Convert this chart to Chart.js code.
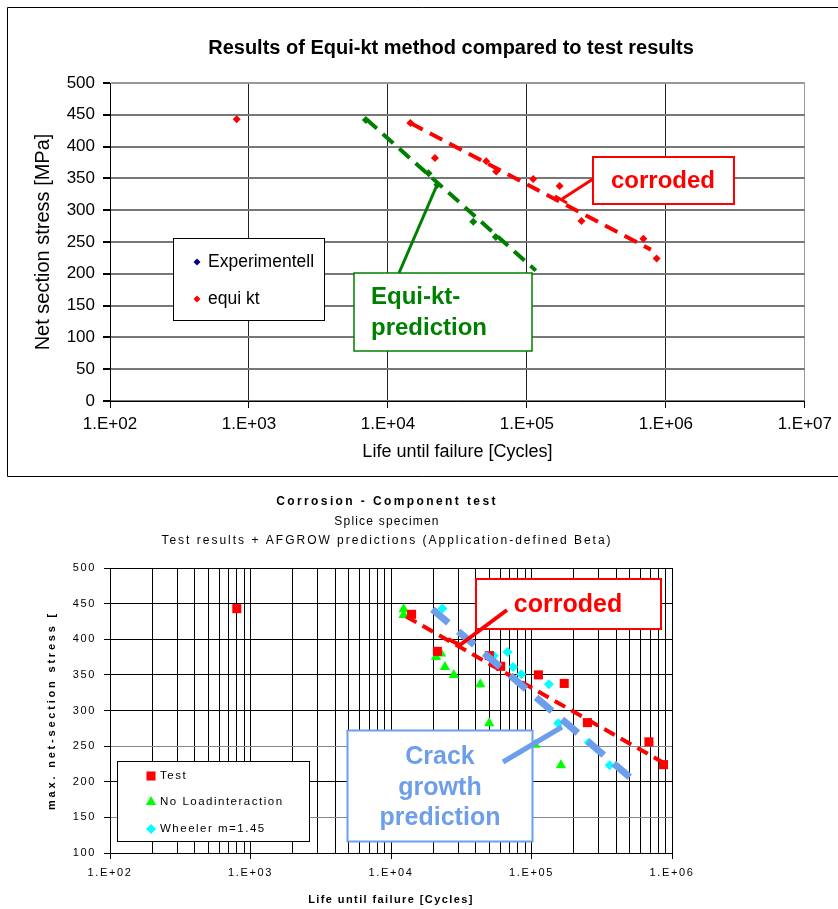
<!DOCTYPE html>
<html>
<head>
<meta charset="utf-8">
<script src="https://cdn.jsdelivr.net/npm/chart.js@4.4.1/dist/chart.umd.min.js"></script>
<style>
  html, body { margin: 0; padding: 0; background: #fff; }
  #wrap { position: relative; width: 838px; height: 909px; }
  #topChart { position: absolute; left: 0; top: 0; }
  #bottomChart { position: absolute; left: 0; top: 480px; }
</style>
</head>
<body>
<div id="wrap">
  <canvas id="topChart" width="838" height="480"></canvas>
  <canvas id="bottomChart" width="838" height="429"></canvas>
</div>
<script>
// --- top chart: Equi-kt method vs test ---
const topXLabels = ['1.E+02', '1.E+03', '1.E+04', '1.E+05', '1.E+06', '1.E+07'];
const topYTicks = [0, 50, 100, 150, 200, 250, 300, 350, 400, 450, 500];
const experimentellLife = [];
const experimentellStress = [];
const equiKtLife = [816, 14500, 21800, 51000, 60100, 111000, 172000, 247000, 689000, 858000];
const equiKtStress = [443, 437, 382, 377, 361, 349, 338, 283, 255, 224];
const predPointLife = [6930, 19600, 22700, 41100, 59700];
const predPointStress = [442, 358, 340, 282, 258];
const predLineLife = [7000, 116000];
const predLineStress = [443, 205];
const corrLineLife = [14500, 780000];
const corrLineStress = [437, 238];

// --- bottom chart: corrosion component test ---
const bottomXLabels = ['1.E+02', '1.E+03', '1.E+04', '1.E+05', '1.E+06'];
const bottomYTicks = [100, 150, 200, 250, 300, 350, 400, 450, 500];
const testLife = [799, 14000, 21400, 50100, 60400, 112000, 171000, 250000, 685000, 870000];
const testStress = [443, 435, 383, 377, 362, 350, 338, 283, 256, 224];
const noLoadLife = [12300, 12300, 20900, 22700, 24200, 28000, 43200, 50000, 106000, 162000];
const noLoadStress = [442, 434, 375, 380, 361, 350, 337, 282, 252, 223];
const wheelerLife = [23200, 53800, 67500, 74000, 84500, 133000, 155000, 256000, 360000];
const wheelerStress = [443, 377, 382, 361, 351, 337, 282, 255, 223];
const crackLineLife = [19700, 525000];
const crackLineStress = [442, 203];
const corrTrendLife = [12800, 900000];
const corrTrendStress = [432, 225];

const FONT = '"Liberation Sans", Arial, sans-serif';
const RED = '#ff0000';
const GREEN = '#008000';
const BLUE = '#6d9eeb';

const zip = (xs, ys) => xs.map((x, i) => ({ x, y: ys[i] }));
const tickValue = lbl => parseFloat(lbl.replace('.E', 'e'));
const labelMap = labels => Object.fromEntries(labels.map(l => [tickValue(l), l]));
const topXLabelOf = labelMap(topXLabels);
const bottomXLabelOf = labelMap(bottomXLabels);

// decade ticks, optionally with the 2..9 minor lines in between
function logTicks(labels, minor) {
  const decades = labels.map(tickValue);
  const out = [];
  decades.forEach((d, i) => {
    if (!minor || i === decades.length - 1) { out.push({ value: d }); return; }
    for (let m = 1; m < 10; m++) out.push({ value: m * d });
  });
  return out;
}

function drawMarker(ctx, style, r, x, y, color) {
  ctx.fillStyle = color;
  ctx.beginPath();
  if (style === 'rect') {
    const s = r * Math.SQRT1_2;
    ctx.rect(x - s, y - s, 2 * s, 2 * s);
  } else if (style === 'triangle') {
    ctx.moveTo(x, y - r);
    ctx.lineTo(x + r * 0.866, y + r * 0.5);
    ctx.lineTo(x - r * 0.866, y + r * 0.5);
    ctx.closePath();
  } else {
    ctx.moveTo(x, y - r);
    ctx.lineTo(x + r, y);
    ctx.lineTo(x, y + r);
    ctx.lineTo(x - r, y);
    ctx.closePath();
  }
  ctx.fill();
}

function drawText(ctx, str, x, y, font, color, align, spacing) {
  ctx.font = font;
  ctx.fillStyle = color;
  ctx.textAlign = align || 'left';
  ctx.textBaseline = 'middle';
  ctx.letterSpacing = spacing || '0px';
  ctx.fillText(str, x, y);
}

// titles, legend box and the callout boxes
function decor(cfg) {
  return {
    id: 'decor',
    beforeDraw(chart) {
      const ctx = chart.ctx;
      ctx.letterSpacing = cfg.tickSpacing || '0px';
      Object.entries(cfg.titleSpacing || {}).forEach(([id, sp]) => {
        const s = chart.scales[id];
        if (s && !s._spaced) {
          const orig = s.drawTitle;
          s.drawTitle = function () {
            const old = ctx.letterSpacing;
            ctx.letterSpacing = sp;
            orig.call(this);
            ctx.letterSpacing = old;
          };
          s._spaced = true;
        }
      });
    },
    afterDraw(chart) {
      const ctx = chart.ctx;
      ctx.save();
      if (cfg.frame) {
        // open on the right, like the cropped original
        const [fx, fy, fr, fb] = cfg.frame;
        ctx.strokeStyle = '#000';
        ctx.lineWidth = 1;
        ctx.beginPath();
        ctx.moveTo(fr, fy); ctx.lineTo(fx, fy); ctx.lineTo(fx, fb); ctx.lineTo(fr, fb);
        ctx.stroke();
      }
      cfg.titles.forEach(t => drawText(ctx, t.text, t.x, t.y, t.font, '#000', 'center', t.spacing));

      const lg = cfg.legend;
      ctx.fillStyle = '#fff';
      ctx.fillRect(...lg.box);
      ctx.strokeStyle = '#000';
      ctx.lineWidth = 1;
      ctx.strokeRect(...lg.box);
      chart.data.datasets.filter(d => d.inLegend).forEach((d, i) => {
        drawMarker(ctx, d.pointStyle, d.legendRadius, lg.markerX, lg.rows[i], d.backgroundColor);
        drawText(ctx, d.label, lg.textX, lg.rows[i], lg.font, '#000', 'left', lg.spacing);
      });

      cfg.boxes.forEach(b => {
        ctx.fillStyle = '#fff';
        ctx.fillRect(...b.rect);
        ctx.strokeStyle = b.stroke;
        ctx.lineWidth = b.width;
        ctx.strokeRect(...b.rect);
        b.lines.forEach((ln, i) => drawText(ctx, ln, b.x, b.ys[i], b.font, b.stroke, b.align, '0px'));
      });

      cfg.callouts.forEach(c => {
        ctx.strokeStyle = c.color;
        ctx.lineWidth = c.width;
        ctx.lineCap = 'butt';
        ctx.beginPath();
        c.pts.forEach(([x, y], i) => (i ? ctx.lineTo(x, y) : ctx.moveTo(x, y)));
        ctx.stroke();
      });
      ctx.restore();
    }
  };
}

const topDecor = {
  frame: [7.5, 7.5, 838, 476.5],
  titles: [{ text: 'Results of Equi-kt method compared to test results', x: 451, y: 48, font: 'bold 20px ' + FONT }],
  legend: { box: [173.5, 238.5, 151, 82], markerX: 197, textX: 208, rows: [262, 299], font: '17.5px ' + FONT },
  boxes: [
    { rect: [593, 157, 141, 47], stroke: RED, width: 2, lines: ['corroded'], x: 611, ys: [181], align: 'left', font: 'bold 24px ' + FONT },
    { rect: [354, 273, 178, 78], stroke: GREEN, width: 1.5, lines: ['Equi-kt-', 'prediction'], x: 371, ys: [297, 328], align: 'left', font: 'bold 24px ' + FONT }
  ],
  callouts: [
    { pts: [[593, 179], [562, 199]], color: RED, width: 3 },
    { pts: [[555, 196], [567, 203]], color: RED, width: 3 },
    { pts: [[399, 273], [437, 185]], color: GREEN, width: 3 }
  ]
};

const bottomDecor = {
  tickSpacing: '1.6px',
  titleSpacing: { x: '1.4px', y: '2.8px' },
  titles: [
    { text: 'Corrosion - Component test', x: 387, y: 22, font: 'bold 12px ' + FONT, spacing: '2.4px' },
    { text: 'Splice specimen', x: 387, y: 41.5, font: '12px ' + FONT, spacing: '1.2px' },
    { text: 'Test results + AFGROW predictions (Application-defined Beta)', x: 387, y: 60.5, font: '12px ' + FONT, spacing: '2px' }
  ],
  legend: { box: [117.5, 281.5, 192, 80], markerX: 151, textX: 160, rows: [296, 322, 349], font: '11.5px ' + FONT, spacing: '1.5px' },
  boxes: [
    { rect: [476, 99, 185, 50], stroke: RED, width: 2, lines: ['corroded'], x: 568, ys: [125], align: 'center', font: 'bold 25px ' + FONT },
    { rect: [347.5, 250.5, 185, 111], stroke: BLUE, width: 2, lines: ['Crack', 'growth', 'prediction'], x: 440, ys: [277, 308, 338], align: 'center', font: 'bold 25px ' + FONT }
  ],
  callouts: [
    { pts: [[507, 130], [460, 165], [448, 159]], color: RED, width: 4 },
    { pts: [[503, 282], [562, 247]], color: BLUE, width: 5 }
  ]
};

// ---------------- top chart ----------------
new Chart(document.getElementById('topChart'), {
  type: 'scatter',
  data: {
    datasets: [
      { label: 'Experimentell', inLegend: true, data: zip(experimentellLife, experimentellStress),
        pointStyle: 'rectRot', pointRadius: 4, legendRadius: 3.5, borderWidth: 0, backgroundColor: '#000080' },
      { label: 'equi kt', inLegend: true, data: zip(equiKtLife, equiKtStress),
        pointStyle: 'rectRot', pointRadius: 4, legendRadius: 3.5, borderWidth: 0, backgroundColor: RED },
      { label: 'Equi-kt prediction points', data: zip(predPointLife, predPointStress),
        pointStyle: 'rectRot', pointRadius: 4, borderWidth: 0, backgroundColor: GREEN },
      { label: 'Equi-kt prediction', data: zip(predLineLife, predLineStress), showLine: true,
        borderColor: GREEN, borderWidth: 4, borderDash: [14, 8], pointRadius: 0 },
      { label: 'corroded', data: zip(corrLineLife, corrLineStress), showLine: true,
        borderColor: RED, borderWidth: 4, borderDash: [14, 8], pointRadius: 0 }
    ]
  },
  options: {
    responsive: false,
    animation: false,
    layout: { padding: { left: 0, right: 32, top: 83, bottom: 0 } },
    plugins: { legend: { display: false }, tooltip: { enabled: false } },
    scales: {
      x: {
        type: 'logarithmic', min: 100, max: 1e7,
        afterBuildTicks: s => { s.ticks = logTicks(topXLabels, false); },
        afterFit: s => { s.height = 79; },
        grid: { color: c => (c.tick && c.tick.value === 1e7 ? '#999' : '#222'), lineWidth: 1, tickLength: 7, tickColor: '#000' },
        border: { color: '#000', width: 1 },
        ticks: { autoSkip: false, maxRotation: 0, padding: 6, color: '#000', font: { family: FONT, size: 17 },
                 callback: v => topXLabelOf[v] ?? '' },
        title: { display: true, text: 'Life until failure [Cycles]', color: '#000',
                 font: { family: FONT, size: 18 }, padding: { top: 0, bottom: 17 } }
      },
      y: {
        type: 'linear', min: 0, max: 500,
        afterBuildTicks: s => { s.ticks = topYTicks.map(v => ({ value: v })); },
        afterFit: s => { s.width = 110; },
        grid: { color: c => (c.tick && c.tick.value === 500 ? '#999' : '#777'), lineWidth: 2, tickLength: 7, tickColor: '#000' },
        border: { color: '#000', width: 1 },
        ticks: { padding: 8, color: '#000', font: { family: FONT, size: 17 } },
        title: { display: true, text: 'Net section stress [MPa]', color: '#000',
                 font: { family: FONT, size: 20 }, padding: { top: 31, bottom: 0 } }
      }
    }
  },
  plugins: [decor(topDecor)]
});

// ---------------- bottom chart ----------------
const greyRows = [150, 250];
new Chart(document.getElementById('bottomChart'), {
  type: 'scatter',
  data: {
    datasets: [
      { label: 'Crack growth prediction', data: zip(crackLineLife, crackLineStress), showLine: true,
        borderColor: BLUE, borderWidth: 7, borderDash: [21, 13], pointRadius: 0 },
      { label: 'corroded', data: zip(corrTrendLife, corrTrendStress), showLine: true,
        borderColor: RED, borderWidth: 4, borderDash: [12, 7], pointRadius: 0 },
      { label: 'Test', inLegend: true, data: zip(testLife, testStress),
        pointStyle: 'rect', pointRadius: 6.4, legendRadius: 6.4, borderWidth: 0, backgroundColor: RED },
      { label: 'No Loadinteraction', inLegend: true, data: zip(noLoadLife, noLoadStress),
        pointStyle: 'triangle', pointRadius: 6, legendRadius: 6, borderWidth: 0, backgroundColor: '#00ff00' },
      { label: 'Wheeler m=1.45', inLegend: true, data: zip(wheelerLife, wheelerStress),
        pointStyle: 'rectRot', pointRadius: 5, legendRadius: 5, borderWidth: 0, backgroundColor: '#00ffff' }
    ]
  },
  options: {
    responsive: false,
    animation: false,
    layout: { padding: { left: 0, right: 166, top: 88, bottom: 0 } },
    plugins: { legend: { display: false }, tooltip: { enabled: false } },
    scales: {
      x: {
        type: 'logarithmic', min: 100, max: 1e6,
        afterBuildTicks: s => { s.ticks = logTicks(bottomXLabels, true); },
        afterFit: s => { s.height = 56; },
        grid: { color: '#000', lineWidth: 1, tickLength: 6,
                tickColor: c => (c.tick && bottomXLabelOf[c.tick.value] ? '#000' : 'rgba(0,0,0,0)') },
        border: { color: '#000', width: 1 },
        ticks: { autoSkip: false, maxRotation: 0, padding: 7, color: '#000', font: { family: FONT, size: 11 },
                 callback: v => bottomXLabelOf[v] ?? '' },
        title: { display: true, text: 'Life until failure [Cycles]', color: '#000',
                 font: { family: FONT, size: 11, weight: 'bold' }, padding: { top: 0, bottom: 2 } }
      },
      y: {
        type: 'linear', min: 100, max: 500,
        afterBuildTicks: s => { s.ticks = bottomYTicks.map(v => ({ value: v })); },
        afterFit: s => { s.width = 110; },
        grid: { color: c => (c.tick && greyRows.includes(c.tick.value) ? '#888' : '#000'), lineWidth: 1, tickLength: 6, tickColor: '#000' },
        border: { color: '#000', width: 1 },
        ticks: { padding: 8, color: '#000', font: { family: FONT, size: 11 } },
        title: { display: true, text: 'max. net-section stress [', color: '#000',
                 font: { family: FONT, size: 11, weight: 'bold' }, padding: { top: 45, bottom: 0 } }
      }
    }
  },
  plugins: [decor(bottomDecor)]
});
</script>
</body>
</html>
